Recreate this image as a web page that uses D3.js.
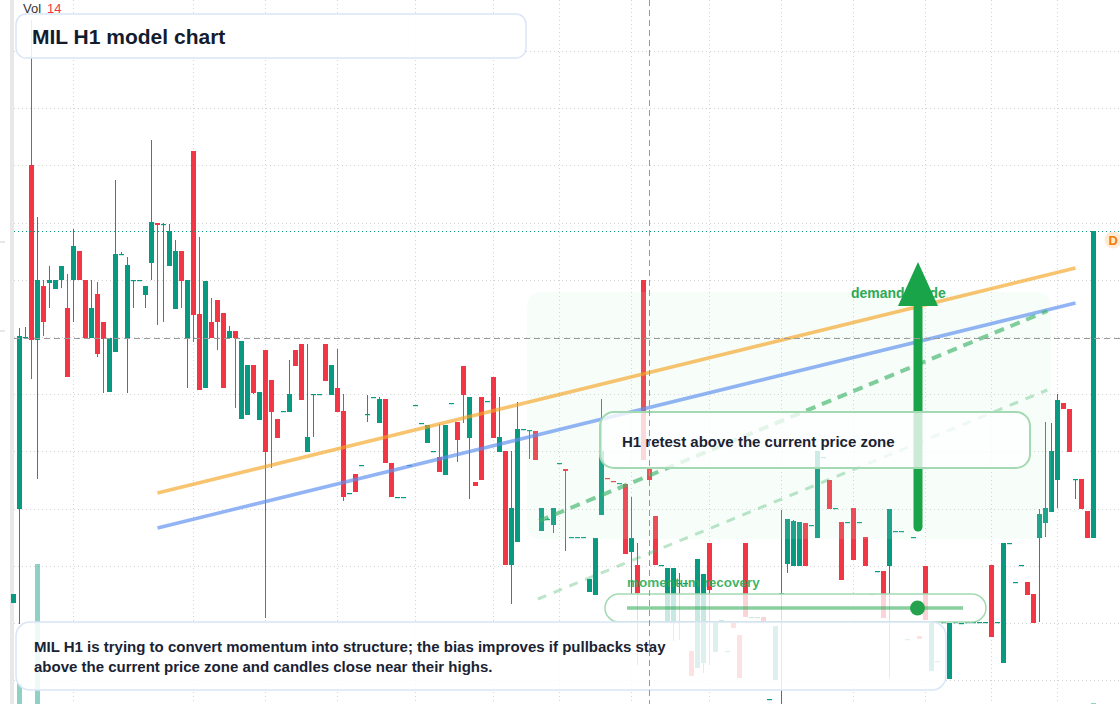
<!DOCTYPE html>
<html><head><meta charset="utf-8">
<script src="https://cdn.jsdelivr.net/npm/d3@7"></script>
<style>html,body{margin:0;padding:0;background:#fff;overflow:hidden}svg{display:block;font-family:"Liberation Sans",Arial,Helvetica,sans-serif}</style>
</head><body><svg id="c" width="1120" height="704"></svg>
<script>
const opens = [3.97,4.91,6.62,8.35,6.60,7.14,7.17,7.11,7.20,6.92,
7.20,7.49,7.20,6.62,7.06,6.78,6.08,6.48,7.45,6.62,
7.20,7.20,7.05,7.37,7.77,7.75,7.34,6.91,7.49,6.62,
8.49,6.86,6.12,6.78,7.00,6.87,6.62,6.69,5.81,5.85,
6.35,5.80,6.50,6.20,5.81,5.89,5.88,6.50,6.56,5.48,
6.06,6.06,6.56,6.05,6.12,5.89,5.07,5.26,5.35,5.86,
6.03,5.77,6.01,5.37,5.03,5.03,5.35,5.95,5.77,5.57,
5.49,5.43,5.25,5.97,5.78,6.34,5.62,5.18,6.03,5.99,
6.23,5.48,5.49,4.35,4.58,5.71,5.70,5.69,4.69,4.80,
4.75,5.37,5.31,4.63,4.63,4.63,4.08,4.05,4.85,5.22,
5.19,5.17,5.16,4.48,4.35,7.20,5.32,4.84,4.35,3.78,
3.79,4.17,4.17,3.49,3.32,3.37,4.57,3.48,3.80,3.49,
3.77,3.65,4.57,3.83,3.83,3.83,3.01,3.20,4.07,4.36,
4.34,4.34,4.77,4.75,4.62,5.43,5.20,4.92,4.78,4.78,
4.92,4.78,4.63,4.06,4.29,4.29,4.34,4.69,4.69,3.61,
4.63,3.64,4.34,3.29,3.39,3.78,3.21,3.78,3.77,3.78,
3.78,3.78,3.78,4.35,3.78,3.37,4.57,4.18,4.35,4.18,
4.06,4.62,4.77,4.88,5.20,5.97,5.91,5.21,5.21,4.89,
4.62];
const highs = [4.06,6.72,6.73,9.80,7.83,7.20,7.34,7.20,7.34,7.26,
7.71,7.49,7.20,7.20,7.18,6.78,6.62,8.20,7.48,7.43,
7.20,7.20,7.14,8.60,7.77,7.77,7.76,7.60,7.49,7.20,
8.49,7.63,7.19,7.02,7.00,6.87,6.74,6.69,6.59,6.35,
6.35,6.08,6.50,6.20,5.81,5.89,6.40,6.50,6.56,6.56,
6.06,6.06,6.56,6.35,6.51,6.06,5.07,5.26,5.35,6.05,
6.03,6.03,6.01,5.37,5.03,5.03,5.35,5.95,5.77,5.75,
5.49,5.76,5.75,5.97,5.78,6.34,6.03,5.18,6.03,5.99,
6.23,6.03,5.49,5.49,5.98,5.71,5.70,5.69,4.92,4.82,
4.92,5.37,5.31,4.63,4.63,4.63,4.21,4.62,6.01,5.22,
5.19,5.17,5.16,5.03,4.57,7.20,5.32,4.84,4.35,4.32,
4.32,4.27,4.17,3.49,4.41,4.26,4.57,3.77,3.80,3.49,
3.77,3.65,4.57,3.83,3.83,3.83,3.01,3.74,4.90,4.81,
4.80,4.78,4.77,4.75,5.49,5.43,5.20,4.92,4.78,4.78,
4.92,4.78,4.63,4.06,4.29,4.29,4.91,4.69,4.69,3.61,
4.63,3.64,4.34,3.78,3.39,3.78,3.77,3.78,3.77,3.78,
3.78,3.78,3.78,4.35,3.78,4.57,4.57,4.18,4.35,4.18,
4.06,4.91,5.78,5.77,6.06,5.97,5.91,5.21,5.21,4.89,
7.69];
const lows = [3.97,3.76,6.62,6.21,5.21,6.64,6.92,7.11,7.12,6.23,
6.78,7.20,6.62,6.62,6.43,6.07,6.08,6.48,7.45,6.07,
6.92,7.20,6.92,7.20,6.75,6.78,7.34,6.91,6.92,6.12,
6.58,6.10,6.12,6.62,6.50,6.12,6.62,5.92,5.81,5.85,
6.06,5.80,3.82,5.32,5.62,5.89,5.88,6.34,6.00,5.48,
5.63,6.06,6.19,6.05,5.88,4.99,5.07,5.08,5.35,5.78,
6.03,5.77,5.37,5.03,5.03,5.03,5.35,5.95,5.77,5.57,
5.49,5.28,5.25,5.97,5.38,5.77,5.01,5.14,5.20,5.99,
5.62,5.48,4.35,3.96,4.58,5.71,5.41,5.40,4.69,4.80,
4.67,5.37,4.49,4.63,4.63,4.63,4.08,4.05,4.85,5.21,
5.18,5.17,4.46,4.05,3.35,5.40,5.20,4.35,4.35,3.78,
3.59,3.60,4.17,3.24,3.32,3.27,3.35,3.48,3.80,3.49,
3.72,3.22,3.83,3.83,3.83,3.78,3.01,3.20,2.96,4.27,
4.34,4.34,4.34,4.75,4.62,5.43,4.91,4.92,4.20,4.78,
4.40,4.78,4.34,4.06,4.29,3.82,3.22,4.69,4.69,3.61,
4.63,3.61,3.80,3.29,3.39,3.78,3.21,3.78,3.77,3.78,
3.78,3.78,3.78,3.63,3.78,3.37,4.57,4.18,4.35,4.05,
3.77,3.78,4.63,4.88,4.92,5.91,5.48,5.01,4.91,4.62,
4.62];
const closes = [4.06,6.64,6.63,6.60,7.20,6.78,7.20,7.20,7.34,6.23,
7.54,7.20,6.62,6.92,6.46,6.61,6.62,7.46,7.46,7.35,
7.20,7.20,7.14,7.78,7.75,7.76,7.69,7.49,7.19,7.20,
6.85,6.10,7.19,6.62,6.78,6.12,6.69,6.62,6.59,6.35,
6.07,6.08,5.48,5.88,5.62,5.89,6.06,6.34,6.00,5.63,
6.06,6.06,6.19,6.35,5.88,5.03,5.07,5.08,5.35,5.86,
6.03,6.01,5.37,5.03,5.03,5.03,5.35,5.95,5.77,5.75,
5.49,5.28,5.75,5.97,5.60,6.05,6.03,5.14,5.20,5.99,
5.62,5.63,4.35,4.92,5.71,5.71,5.70,5.40,4.92,4.81,
4.92,5.37,5.29,4.63,4.63,4.63,4.21,4.62,5.49,5.21,
5.18,5.17,4.46,4.62,4.07,5.40,5.20,4.35,4.35,4.32,
4.32,4.17,4.17,3.24,4.41,4.26,4.10,3.77,3.80,3.49,
3.72,3.22,3.83,3.83,3.83,3.78,3.01,3.74,4.07,4.81,
4.79,4.78,4.34,4.75,5.49,5.43,4.91,4.92,4.20,4.78,
4.40,4.78,4.34,4.06,4.29,3.82,4.91,4.69,4.69,3.61,
4.63,3.61,3.80,3.78,3.39,3.78,3.77,3.78,3.77,3.78,
3.78,3.78,3.78,3.63,3.78,4.57,4.57,4.18,4.35,4.05,
3.77,4.86,4.92,5.49,6.00,5.91,5.48,5.21,4.91,4.62,
7.69];
const volumeBars = [1, 4, 180];
const volumeValues = [290, 2000, 14];
const gridPrices = [9.49, 8.92, 8.35, 7.77, 7.20, 6.63, 6.06, 5.49, 4.91, 4.34, 3.77, 3.20];
const gridBars = [10, 30, 42, 54, 67, 80, 91, 103, 116, 128, 140, 152, 163, 174];
const crosshairBar = 106, crosshairPrice = 6.62;
const lastPrice = 7.69;
const resistanceLine = [[24, 5.07], [177, 7.32]];
const supportLine = [[24, 4.72], [177, 6.97]];
const guideDash = [[87.6, 4.79], [172.3, 6.89]];
const guideDashLight = [[87.4, 4.01], [172.3, 6.10]];
const demandZone = {from: 85.6, to: 172.9, top: 7.08, bottom: 4.61};
const arrowBar = 150.75, arrowFrom = 4.73, arrowBase = 6.94, arrowTip = 7.38;
const momentumTrack = {from: 102.25, to: 158.25, dot: 150.67, price: 3.92};
const title = "MIL H1 model chart";
const note1 = "MIL H1 is trying to convert momentum into structure; the bias improves if pullbacks stay";
const note2 = "above the current price zone and candles close near their highs.";
const retestLabel = "H1 retest above the current price zone";

const W = 1120, H = 704;
const UP = "#089981", DOWN = "#f23645";
const svg = d3.select("#c");
const x = d3.scaleLinear().domain([0, 180]).range([13.5, 1093.5]);
const y = d3.scaleLinear().domain([2.96, 10]).range([704, 0]);
const v = d3.scaleLinear().domain([0, 2000]).range([704, 564]);

svg.append("rect").attr("width", W).attr("height", H).attr("fill", "#fff");

// grid
const g = svg.append("g");
g.selectAll(".hg").data(gridPrices).join("line")
  .attr("x1", 14).attr("x2", W).attr("y1", d => Math.round(y(d)) + 0.5).attr("y2", d => Math.round(y(d)) + 0.5)
  .attr("stroke", "#d4d4d4").attr("stroke-dasharray", "1 3");
g.selectAll(".vg").data(gridBars).join("line")
  .attr("x1", d => Math.floor(x(d)) + 0.5).attr("x2", d => Math.floor(x(d)) + 0.5).attr("y1", 0).attr("y2", H)
  .attr("stroke", "#d4d4d4").attr("stroke-dasharray", "1 3");

// left scale strip
svg.append("rect").attr("x", 10).attr("y", 0).attr("width", 4).attr("height", H).attr("fill", "#e8e8e8");
svg.selectAll(".tk").data([7.58, 6.69]).join("line")
  .attr("x1", 0).attr("x2", 5).attr("y1", d => y(d)).attr("y2", d => y(d)).attr("stroke", "#d0d0d0");

// volume
svg.append("g").selectAll("rect").data(volumeBars).join("rect")
  .attr("x", d => x(d) - 2.5).attr("width", 5)
  .attr("y", (d, k) => v(volumeValues[k])).attr("height", (d, k) => 704 - v(volumeValues[k]))
  .attr("fill", d => closes[d] >= opens[d] ? "rgba(8,153,129,0.45)" : "rgba(242,54,69,0.45)");

// candles
const idx = d3.range(opens.length);
const cg = svg.append("g");
cg.selectAll(".w").data(idx).join("line")
  .attr("x1", i => x(i)).attr("x2", i => x(i))
  .attr("y1", i => y(highs[i])).attr("y2", i => y(lows[i]))
  .attr("stroke", i => closes[i] >= opens[i] ? UP : DOWN).attr("stroke-width", 1);
cg.selectAll(".b").data(idx).join("rect")
  .attr("x", i => x(i) - 2.5).attr("width", 5)
  .attr("y", i => y(Math.max(opens[i], closes[i])))
  .attr("height", i => Math.max(1.2, Math.abs(y(opens[i]) - y(closes[i]))))
  .attr("fill", i => closes[i] >= opens[i] ? UP : DOWN);

// demand zone
svg.append("rect")
  .attr("x", x(demandZone.from)).attr("width", x(demandZone.to) - x(demandZone.from))
  .attr("y", y(demandZone.top)).attr("height", y(demandZone.bottom) - y(demandZone.top))
  .attr("rx", 14).attr("fill", "rgba(190,236,205,0.13)");

const line = d3.line().x(d => x(d[0])).y(d => y(d[1]));
svg.append("path").attr("d", line(resistanceLine)).attr("stroke", "#f5a524").attr("stroke-opacity", 0.65)
  .attr("stroke-width", 3.5).attr("fill", "none");
svg.append("path").attr("d", line(supportLine)).attr("stroke", "#5f90ef").attr("stroke-opacity", 0.68)
  .attr("stroke-width", 3.5).attr("fill", "none");
svg.append("path").attr("d", line(guideDash)).attr("stroke", "#3fb468").attr("stroke-opacity", 0.65)
  .attr("stroke-width", 4).attr("stroke-dasharray", "10 7").attr("fill", "none");
svg.append("path").attr("d", line(guideDashLight)).attr("stroke", "#3fb468").attr("stroke-opacity", 0.35)
  .attr("stroke-width", 3).attr("stroke-dasharray", "9 8").attr("fill", "none");

// last price line
svg.append("line").attr("x1", 14).attr("x2", W).attr("y1", Math.round(y(lastPrice)) + 0.5).attr("y2", Math.round(y(lastPrice)) + 0.5)
  .attr("stroke", UP).attr("stroke-dasharray", "1 3");

// demand guide label + arrow
svg.append("text").attr("x", 851).attr("y", 298).attr("font-size", 14).attr("font-weight", "bold")
  .attr("fill", "#2fa955").text("demand guide");
const ax = x(arrowBar);
svg.append("line").attr("x1", ax).attr("x2", ax).attr("y1", y(arrowFrom)).attr("y2", y(arrowBase) + 2)
  .attr("stroke", "#19a449").attr("stroke-width", 9).attr("stroke-linecap", "round");
svg.append("path").attr("d", `M${ax - 20},${y(arrowBase)}L${ax + 20},${y(arrowBase)}L${ax},${y(arrowTip)}Z`).attr("fill", "#19a449");

// retest box
svg.append("rect").attr("x", 600).attr("y", 412).attr("width", 430).attr("height", 56).attr("rx", 14)
  .attr("fill", "rgba(255,255,255,0.78)").attr("stroke", "#a4dab3").attr("stroke-width", 2);
svg.append("text").attr("x", 622).attr("y", 447).attr("font-size", 15).attr("font-weight", "bold")
  .attr("fill", "#1a2333").text(retestLabel);

// momentum
svg.append("text").attr("x", 627).attr("y", 587).attr("font-size", 13.5).attr("font-weight", "bold")
  .attr("fill", "#2aaa52").attr("fill-opacity", 0.9).text("momentum recovery");
svg.append("rect").attr("x", 605).attr("y", 594).attr("width", 381).attr("height", 28).attr("rx", 14)
  .attr("fill", "rgba(255,255,255,0.78)").attr("stroke", "#a4dab3").attr("stroke-width", 1.5);
svg.append("line").attr("x1", x(momentumTrack.from)).attr("x2", x(momentumTrack.to))
  .attr("y1", y(momentumTrack.price)).attr("y2", y(momentumTrack.price))
  .attr("stroke", "#2aa852").attr("stroke-opacity", 0.55).attr("stroke-width", 3.5);
svg.append("circle").attr("cx", x(momentumTrack.dot)).attr("cy", y(momentumTrack.price)).attr("r", 7.5).attr("fill", "#24a24e");

// bottom note
svg.append("rect").attr("x", 16).attr("y", 622).attr("width", 930).attr("height", 68).attr("rx", 14)
  .attr("fill", "rgba(255,255,255,0.86)").attr("stroke", "#d9e6f8").attr("stroke-width", 1.5);
svg.append("text").attr("x", 34).attr("y", 652).attr("font-size", 15).attr("font-weight", "bold").attr("fill", "#1a2333").text(note1);
svg.append("text").attr("x", 34).attr("y", 672).attr("font-size", 15).attr("font-weight", "bold").attr("fill", "#1a2333").text(note2);

// title
svg.append("rect").attr("x", 16).attr("y", 14).attr("width", 510).attr("height", 44).attr("rx", 10)
  .attr("fill", "rgba(255,255,255,0.88)").attr("stroke", "#d9e6f8").attr("stroke-width", 1.5);
svg.append("text").attr("x", 32).attr("y", 43.5).attr("font-size", 21).attr("font-weight", "bold").attr("fill", "#131c2e").text(title);

// legend
const lg = svg.append("text").attr("x", 23).attr("y", 13).attr("font-size", 13);
lg.append("tspan").attr("fill", "#333").text("Vol");
lg.append("tspan").attr("dx", 6).attr("fill", "#f23645").text(String(volumeValues[volumeValues.length - 1]));

// crosshair
svg.append("line").attr("x1", 14).attr("x2", W).attr("y1", Math.round(y(crosshairPrice)) + 0.5).attr("y2", Math.round(y(crosshairPrice)) + 0.5)
  .attr("stroke", "#9a9a9a").attr("stroke-dasharray", "6 4");
svg.append("line").attr("x1", Math.floor(x(crosshairBar)) + 0.5).attr("x2", Math.floor(x(crosshairBar)) + 0.5).attr("y1", 0).attr("y2", H)
  .attr("stroke", "#9a9a9a").attr("stroke-dasharray", "6 4");

// D badge
svg.append("circle").attr("cx", 1113).attr("cy", 240).attr("r", 8.5).attr("fill", "#fdebd5");
svg.append("text").attr("x", 1108.5).attr("y", 244.5).attr("font-size", 13).attr("font-weight", "bold").attr("fill", "#f57c00").text("D");
</script></body></html>
